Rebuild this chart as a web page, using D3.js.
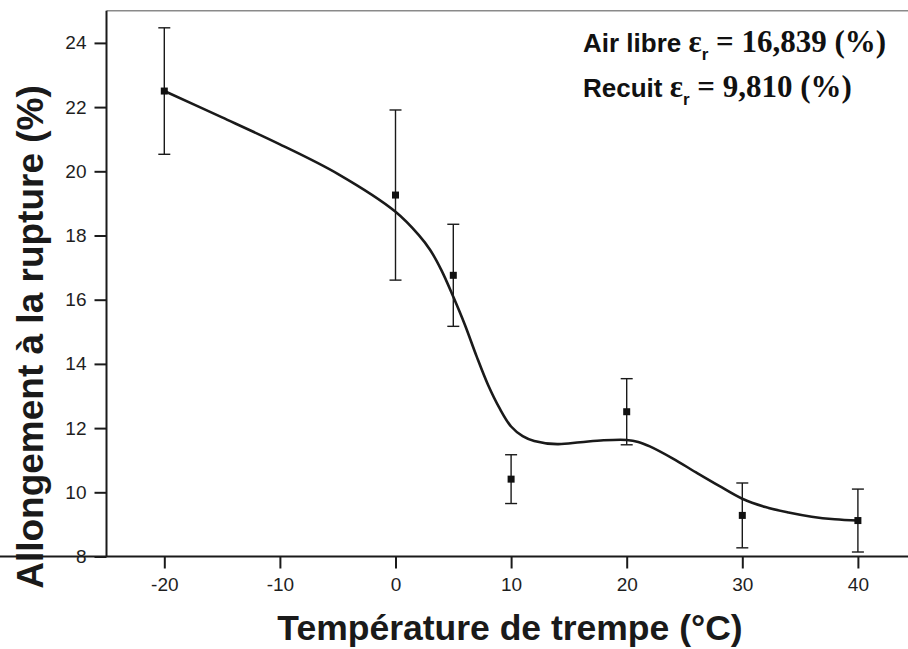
<!DOCTYPE html>
<html><head><meta charset="utf-8">
<script src="https://cdn.jsdelivr.net/npm/d3@7"></script>
<style>body{margin:0;background:#fff}svg{display:block}</style>
</head><body>
<script>
// ---- data ----
const temps = [-20, 0, 5, 10, 20, 30, 40];
const elong = [22.5, 19.26, 16.76, 10.41, 12.51, 9.28, 9.12];
const errs  = [1.97, 2.65, 1.59, 0.76, 1.03, 1.01, 0.98];
const fitX = [-20, -15, -10, -5, 0, 2, 3, 4, 5, 6, 7, 8, 9, 10, 11, 12, 14, 16, 18, 20, 21, 22, 24, 26, 28, 30, 32, 34, 36, 38, 40];
const fitY = [22.5, 21.68, 20.84, 19.92, 18.74, 18.02, 17.55, 16.9, 16.09, 15.22, 14.25, 13.35, 12.62, 12.05, 11.75, 11.6, 11.5, 11.56, 11.62, 11.63, 11.57, 11.43, 11.05, 10.62, 10.2, 9.8, 9.54, 9.37, 9.24, 9.16, 9.12];
const xTicks = [-20, -10, 0, 10, 20, 30, 40];
const xMinor = [-25, -15, -5, 5, 15, 25, 35, 45];
const yTicks = [8, 10, 12, 14, 16, 18, 20, 22, 24];
const yMinor = [9, 11, 13, 15, 17, 19, 21, 23, 25];
const xTitle = "Température de trempe (°C)";
const yTitle = "Allongement à la rupture (%)";
const noteNames = ["Air libre", "Recuit"];
const noteValues = ["16,839 (%)", "9,810 (%)"];

const W = 908, H = 649;
const svg = d3.select("body").append("svg").attr("width", W).attr("height", H);
const x = d3.scaleLinear().domain([-25, 45]).range([106.5, 915.7]);
const y = d3.scaleLinear().domain([8, 25]).range([556.5, 10.8]);
const ink = "#1a1a1a";
const sans = "'Liberation Sans', Arial, sans-serif";
const serif = "'Liberation Serif', 'Times New Roman', serif";

// top frame line
svg.append("line").attr("x1", x(-25)).attr("x2", W).attr("y1", y(25)).attr("y2", y(25))
  .attr("stroke", "#8a8a8a").attr("stroke-width", 1.5);

// axes
const fmt = d => String(d);
const gx = svg.append("g").attr("transform", `translate(0,${y(8)})`);
gx.call(d3.axisBottom(x).tickValues(xMinor).tickSize(7).tickFormat(""));
gx.call(d3.axisBottom(x).tickValues(xTicks).tickSize(12).tickPadding(9).tickFormat(fmt));
const gy = svg.append("g").attr("transform", `translate(${x(-25)},0)`);
gy.call(d3.axisLeft(y).tickValues(yMinor).tickSize(7).tickFormat(""));
gy.call(d3.axisLeft(y).tickValues(yTicks).tickSize(12).tickPadding(8).tickFormat(fmt));
svg.selectAll(".domain").attr("stroke", ink).attr("stroke-width", 2);
svg.selectAll(".tick line").attr("stroke", ink).attr("stroke-width", 2);
svg.selectAll(".tick text").attr("fill", "#1e1e1e").style("font-family", sans).style("font-size", "19px");
gy.selectAll(".domain").attr("d", `M0,${y(8)}V${y(25)}`);
gx.selectAll(".domain").attr("d", `M0,0H${W}`);

// titles
svg.append("text").attr("x", 510).attr("y", 640).attr("text-anchor", "middle")
  .style("font-family", sans).style("font-weight", "bold").style("font-size", "35.5px")
  .attr("fill", "#1a1a1a").text(xTitle);
svg.append("text").attr("transform", `translate(43,337) rotate(-90)`).attr("text-anchor", "middle")
  .style("font-family", sans).style("font-weight", "bold").style("font-size", "37px")
  .attr("fill", "#1a1a1a").text(yTitle);

// fit curve
const fit = fitX.map((v, i) => [v, fitY[i]]);
svg.append("path").datum(fit)
  .attr("d", d3.line().x(d => x(d[0])).y(d => y(d[1])).curve(d3.curveCatmullRom.alpha(0.5)))
  .attr("fill", "none").attr("stroke", ink).attr("stroke-width", 2.6);

// error bars
const pts = temps.map((t, i) => ({t, v: elong[i], e: errs[i]}));
const eb = svg.append("g").attr("stroke", ink).attr("stroke-width", 1.4);
eb.selectAll(".v").data(pts).join("line")
  .attr("x1", d => x(d.t)).attr("x2", d => x(d.t)).attr("y1", d => y(d.v - d.e)).attr("y2", d => y(d.v + d.e));
eb.selectAll(".c1").data(pts).join("line")
  .attr("x1", d => x(d.t) - 6).attr("x2", d => x(d.t) + 6).attr("y1", d => y(d.v + d.e)).attr("y2", d => y(d.v + d.e));
eb.selectAll(".c2").data(pts).join("line")
  .attr("x1", d => x(d.t) - 6).attr("x2", d => x(d.t) + 6).attr("y1", d => y(d.v - d.e)).attr("y2", d => y(d.v - d.e));
svg.append("g").selectAll("rect").data(pts).join("rect")
  .attr("x", d => x(d.t) - 3.5).attr("y", d => y(d.v) - 3.5).attr("width", 7).attr("height", 7).attr("fill", "#111");

// annotations
noteNames.forEach((name, i) => {
  const t = svg.append("text").attr("x", 583).attr("y", 52 + i * 45).attr("fill", "#111");
  t.append("tspan").style("font-family", sans).style("font-weight", "bold").style("font-size", "26px").text(name + " ");
  t.append("tspan").style("font-family", serif).style("font-weight", "bold").style("font-size", "31px").text("ε");
  t.append("tspan").attr("dy", 8).style("font-family", sans).style("font-weight", "bold").style("font-size", "17px").text("r");
  t.append("tspan").attr("dy", -8).style("font-family", serif).style("font-weight", "bold").style("font-size", "31px").text(" = " + noteValues[i]);
});
</script>
</body></html>
